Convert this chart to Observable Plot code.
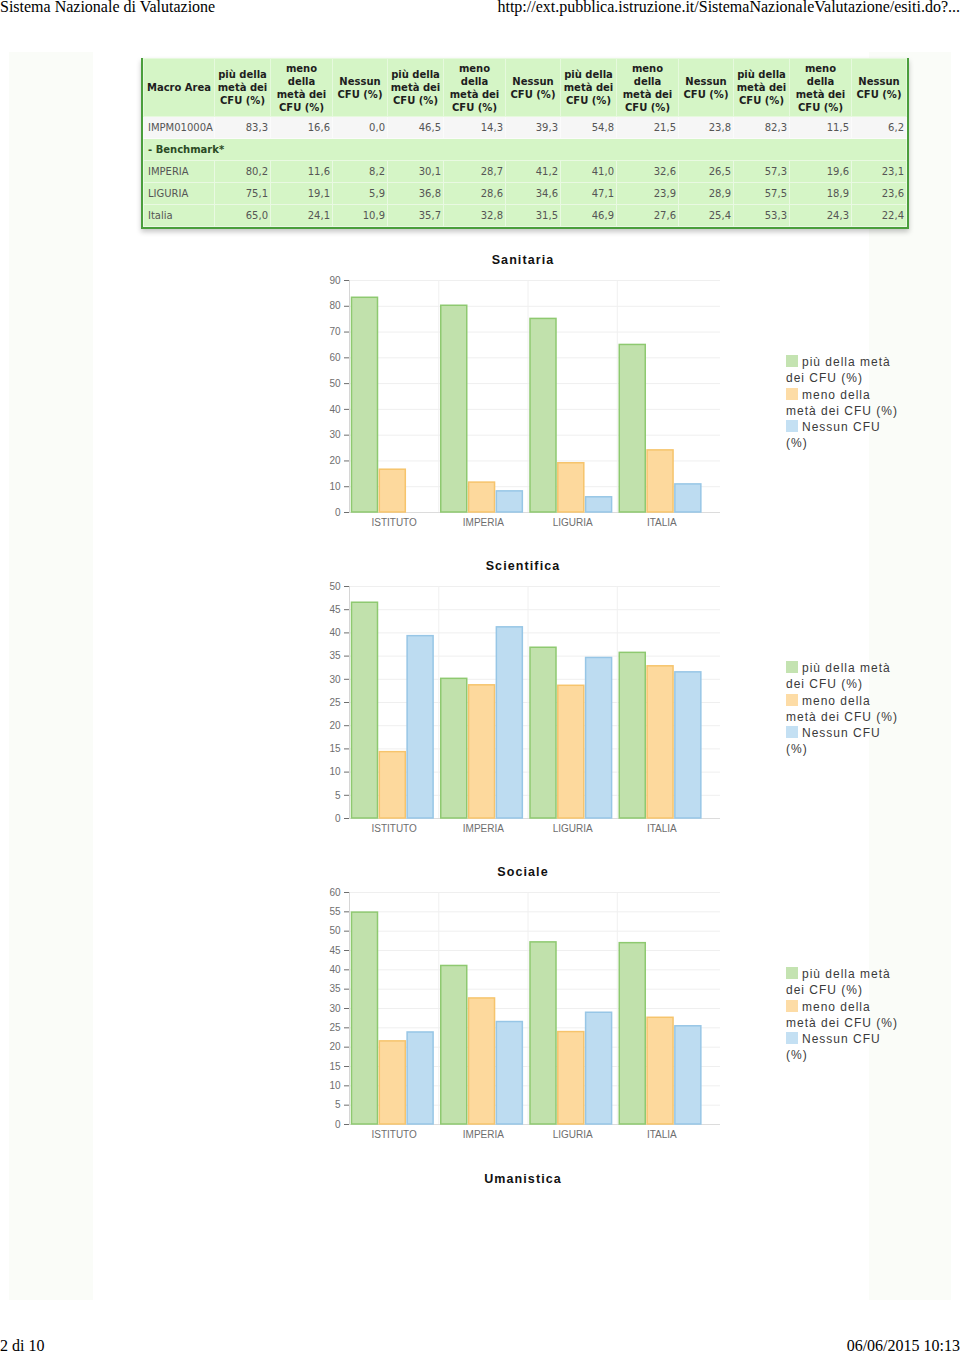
<!DOCTYPE html>
<html>
<head>
<meta charset="utf-8">
<script src="https://cdn.jsdelivr.net/npm/d3@7"></script>
<script src="https://cdn.jsdelivr.net/npm/@observablehq/plot@0.6"></script>
<style>
  html, body { margin: 0; padding: 0; }
  body { width: 960px; height: 1354px; position: relative; background: #fff; overflow: hidden; }
  .abs { position: absolute; }
  .serif { font-family: "Liberation Serif", serif; font-size: 16px; color: #000; line-height: 18px; white-space: nowrap; }
  .panel { position: absolute; background: #fafcf8; }
  #tblwrap { position: absolute; left: 141px; top: 58px; border-left: 2px solid #4a9e3c; border-right: 2px solid #4a9e3c; border-bottom: 2px solid #4a9e3c; box-shadow: 0 3px 5px rgba(0,0,0,0.22); }
  #tbl { border-collapse: collapse; table-layout: fixed; width: 763px; font-family: "DejaVu Sans", Verdana, sans-serif; }
  #tbl th { background: #d5f5c6; font-size: 10px; font-weight: bold; line-height: 13px; color: #1e1e1e; text-align: center; vertical-align: middle; padding: 0 1px; border: 1px solid #e6f9dd; height: 57px; }
  #tbl td { font-size: 10px; color: #555; height: 21px; padding: 0 2px 0 4px; border: 1px solid #e9f9e2; text-align: right; vertical-align: middle; }
  #tbl td.lab { text-align: left; }
  #tbl tr.white td { background: #f6f6f6; border-color: #fbfbfb; }
  #tbl tr.green td { background: #d5f5c6; }
  #tbl td.bench { font-weight: bold; color: #2b4a24; text-align: left; }
  .ctitle { position: absolute; left: 0; width: 1046px; text-align: center; font-family: "Liberation Sans", Arial, sans-serif; font-weight: bold; font-size: 12.5px; letter-spacing: 1.1px; color: #111; line-height: 16px; }
  .legend { position: absolute; left: 786px; font-family: "Liberation Sans", Arial, sans-serif; font-size: 12px; letter-spacing: 1px; line-height: 16.3px; color: #3a3a3a; white-space: nowrap; }
  .sw { display: inline-block; width: 12px; height: 12px; margin-right: 4px; vertical-align: -1px; }
  .chart { position: absolute; left: 0; }
</style>
</head>
<body>
<div class="panel" style="left:9px; top:52px; width:84px; height:1248px;"></div>
<div class="panel" style="left:869px; top:52px; width:82px; height:1248px;"></div>
<div id="root"></div>
<script>
// ---------- data ----------
const pageHeaderLeft = "Sistema Nazionale di Valutazione";
const pageHeaderRight = "http://ext.pubblica.istruzione.it/SistemaNazionaleValutazione/esiti.do?...";
const pageFooterLeft = "2 di 10";
const pageFooterRight = "06/06/2015 10:13";

const groups = ["ISTITUTO", "IMPERIA", "LIGURIA", "ITALIA"];
const tableRowLabels = ["IMPM01000A", "IMPERIA", "LIGURIA", "Italia"];
const benchmarkLabel = "- Benchmark*";
const firstHeader = "Macro Area";
const seriesNames = ["più della metà dei CFU (%)", "meno della metà dei CFU (%)", "Nessun CFU (%)"];
const headerLines = [["più della", "metà dei", "CFU (%)"], ["meno", "della", "metà dei", "CFU (%)"], ["Nessun", "CFU (%)"]];
const legendLines = [["più della metà", "dei CFU (%)"], ["meno della", "metà dei CFU (%)"], ["Nessun CFU", "(%)"]];
const areas = ["Sanitaria", "Scientifica", "Sociale", "Umanistica"];

const sanitariaPiu    = [83.3, 80.2, 75.1, 65.0];
const sanitariaMeno   = [16.6, 11.6, 19.1, 24.1];
const sanitariaNessun = [0.0, 8.2, 5.9, 10.9];
const scientificaPiu    = [46.5, 30.1, 36.8, 35.7];
const scientificaMeno   = [14.3, 28.7, 28.6, 32.8];
const scientificaNessun = [39.3, 41.2, 34.6, 31.5];
const socialePiu    = [54.8, 41.0, 47.1, 46.9];
const socialeMeno   = [21.5, 32.6, 23.9, 27.6];
const socialeNessun = [23.8, 26.5, 28.9, 25.4];
const umanisticaPiu    = [82.3, 57.3, 57.5, 53.3];
const umanisticaMeno   = [11.5, 19.6, 18.9, 24.3];
const umanisticaNessun = [6.2, 23.1, 23.6, 22.4];

const areaValues = [
  [sanitariaPiu, sanitariaMeno, sanitariaNessun],
  [scientificaPiu, scientificaMeno, scientificaNessun],
  [socialePiu, socialeMeno, socialeNessun],
  [umanisticaPiu, umanisticaMeno, umanisticaNessun]
];
const yMaxes = [90, 50, 60];
const ySteps = [10, 5, 5];

// ---------- styles ----------
const fills = ["#c1e1ac", "#fdd99d", "#bddcf1"];
const strokes = ["#8ec970", "#f6c46c", "#97c6e6"];
const swatches = ["#c4e3b1", "#fddca6", "#c4e0f3"];
const chartTops = [252, 558, 864];   // title tops
const umanisticaTop = 1171;

const root = document.getElementById("root");
function addDiv(cls, style, html) {
  const d = document.createElement("div");
  d.className = cls; d.setAttribute("style", style); d.innerHTML = html;
  root.appendChild(d); return d;
}

// header / footer
addDiv("abs serif", "left:0; top:-2px;", pageHeaderLeft);
addDiv("abs serif", "right:0; top:-2px;", pageHeaderRight);
addDiv("abs serif", "left:0; top:1337px;", pageFooterLeft);
addDiv("abs serif", "right:0; top:1337px;", pageFooterRight);

// ---------- table ----------
const fmt = v => v.toFixed(1).replace(".", ",");
let t = '<table id="tbl"><colgroup><col style="width:71px">';
for (let a = 0; a < 4; a++) t += '<col style="width:56px"><col style="width:62px"><col style="width:55px">';
t += '</colgroup><tr><th>' + firstHeader + '</th>';
for (let a = 0; a < 4; a++) for (let s = 0; s < 3; s++) t += '<th>' + headerLines[s].join("<br>") + '</th>';
t += '</tr>';
tableRowLabels.forEach((lab, r) => {
  if (r === 1) t += '<tr class="green"><td class="bench" colspan="13">' + benchmarkLabel + '</td></tr>';
  t += '<tr class="' + (r === 0 ? "white" : "green") + '"><td class="lab">' + lab + '</td>';
  for (let a = 0; a < 4; a++) for (let s = 0; s < 3; s++) t += '<td>' + fmt(areaValues[a][s][r]) + '</td>';
  t += '</tr>';
});
t += '</table>';
addDiv("", "", '<div id="tblwrap">' + t + '</div>');

// ---------- charts ----------
const X0 = 349, X1 = 706, W = 960, ML = 349, MR = 240;
const bw = (X1 - X0) / groups.length;
const barW = 26, stride = 27.8, pad0 = 2.5;

function drawChart(k) {
  const top = chartTops[k];
  addDiv("ctitle", "top:" + top + "px;", areas[k]);
  const vals = areaValues[k];
  const data = [];
  seriesNames.forEach((s, i) => groups.forEach((g, j) => data.push({group: g, series: s, si: i, value: vals[i][j]})));
  const ticks = d3.range(0, yMaxes[k] + ySteps[k] / 2, ySteps[k]);
  const marks = [
    Plot.ruleY(ticks, {y: d => d, stroke: "#efefef"}),
    Plot.ruleX(groups.slice(1), {x: d => d, dx: -bw / 2, stroke: "#f0f0f0"}),
    Plot.ruleX(groups.slice(0, 1), {x: d => d, dx: -bw / 2, stroke: "#d6d6d6"}),
    Plot.ruleY([0], {y: d => d, stroke: "#dcdcdc"}),
    ...seriesNames.map((s, i) => Plot.barY(data.filter(d => d.si === i), {
      x: "group", y: "value", fill: fills[i], stroke: strokes[i], strokeWidth: 1.5,
      insetLeft: pad0 + i * stride, insetRight: bw - pad0 - i * stride - barW
    }))
  ];
  const svg = Plot.plot({
    width: W, height: 266, marginTop: 10, marginBottom: 24, marginLeft: ML, marginRight: MR,
    x: {type: "band", domain: groups, range: [X0, X1], padding: 0, round: false, tickSize: 0, tickPadding: 6, label: null},
    y: {domain: [0, yMaxes[k]], ticks: ticks, tickSize: 5, tickPadding: 4, label: null},
    style: {background: "none", fontFamily: "'Liberation Sans', Arial, sans-serif", fontSize: "10px", color: "#6e6e6e", overflow: "visible"},
    marks
  });
  const holder = addDiv("chart", "top:" + (top + 18) + "px;", "");
  holder.appendChild(svg);
  // legend
  let lg = "";
  seriesNames.forEach((s, i) => {
    lg += '<span class="sw" style="background:' + swatches[i] + '"></span>' + legendLines[i].join("<br>") + (i < 2 ? "<br>" : "");
  });
  addDiv("legend", "top:" + (top + 102) + "px;", lg);
}
[0, 1, 2].forEach(drawChart);
addDiv("ctitle", "top:" + umanisticaTop + "px;", areas[3]);
</script>
</body>
</html>
